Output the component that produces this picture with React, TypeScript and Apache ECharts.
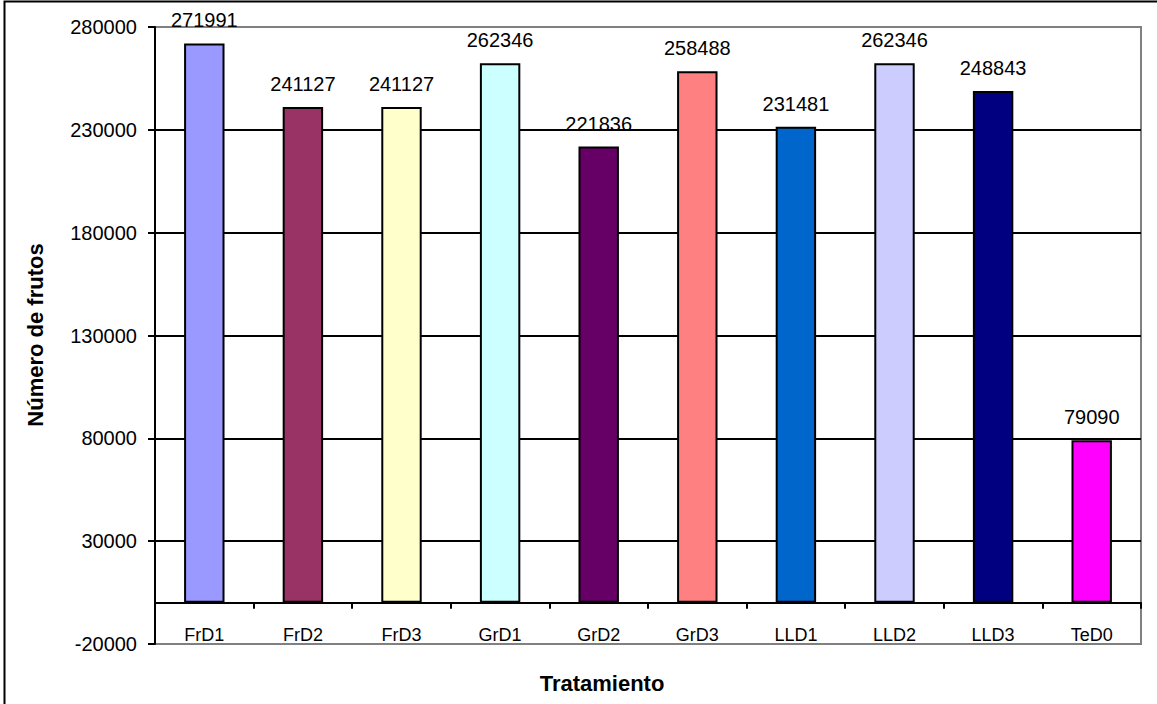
import React, { useEffect, useRef } from "react";
import * as echarts from "echarts";

const categories = ["FrD1", "FrD2", "FrD3", "GrD1", "GrD2", "GrD3", "LLD1", "LLD2", "LLD3", "TeD0"];
const values = [271991, 241127, 241127, 262346, 221836, 258488, 231481, 262346, 248843, 79090];
const barColors = ["#9999FF", "#993366", "#FFFFCC", "#CCFFFF", "#660066", "#FF8080", "#0066CC", "#CCCCFF", "#000080", "#FF00FF"];
const yMin = -20000;
const yMax = 280000;
const yInterval = 50000;
const yTitle = "Número de frutos";
const xTitle = "Tratamiento";

export default function App() {
  const ref = useRef<HTMLDivElement>(null);
  useEffect(() => {
    if (!ref.current) return;
    const chart = echarts.init(ref.current, null, { renderer: "svg" });
    const font = "Arial, 'Liberation Sans', sans-serif";
    chart.setOption({
      animation: false,
      backgroundColor: "#ffffff",
      textStyle: { fontFamily: font },
      grid: {
        left: 155,
        top: 27,
        width: 986,
        height: 617,
        show: true,
        borderColor: "#808080",
        borderWidth: 2,
        backgroundColor: "transparent",
      },
      graphic: [
        {
          type: "rect",
          shape: { x: 4.5, y: 1.5, width: 1160, height: 710 },
          style: { fill: "none", stroke: "#000000", lineWidth: 2 },
          silent: true,
        },
        {
          type: "text",
          x: 35,
          y: 335,
          rotation: Math.PI / 2,
          style: {
            text: yTitle,
            font: `bold 22px ${font}`,
            fill: "#000000",
            align: "center",
            verticalAlign: "middle",
          },
        },
        {
          type: "text",
          x: 602,
          y: 683,
          style: {
            text: xTitle,
            font: `bold 22px ${font}`,
            fill: "#000000",
            align: "center",
            verticalAlign: "middle",
          },
        },
      ],
      xAxis: {
        type: "category",
        data: categories,
        axisLine: { onZero: true, lineStyle: { color: "#000000", width: 2 } },
        axisTick: { show: true, length: 6, inside: false, lineStyle: { color: "#000000", width: 2 } },
        axisLabel: { color: "#000000", fontSize: 18, fontFamily: font, margin: -18, interval: 0 },
        splitLine: { show: false },
      },
      yAxis: {
        type: "value",
        min: yMin,
        max: yMax,
        interval: yInterval,
        axisLine: { show: true, lineStyle: { color: "#000000", width: 2 } },
        axisTick: { show: true, length: 7, lineStyle: { color: "#000000", width: 2 } },
        axisLabel: {
          color: "#000000",
          fontSize: 20,
          fontFamily: font,
          margin: 18,
          formatter: (v: number) => String(v),
        },
        splitLine: {
          show: true,
          showMinLine: false,
          showMaxLine: false,
          lineStyle: { color: "#000000", width: 2 },
        },
      },
      series: [
        {
          type: "bar",
          data: values.map((v, i) => ({ value: v, itemStyle: { color: barColors[i] } })),
          barWidth: "41%",
          itemStyle: { borderColor: "#000000", borderWidth: 2 },
          label: {
            show: true,
            position: "top",
            distance: 13,
            color: "#000000",
            fontSize: 20,
            fontFamily: font,
          },
        },
      ],
    });
    return () => chart.dispose();
  }, []);
  return (
    <div
      ref={ref}
      style={{ position: "fixed", left: 0, top: 0, width: 1157, height: 704 }}
    />
  );
}
